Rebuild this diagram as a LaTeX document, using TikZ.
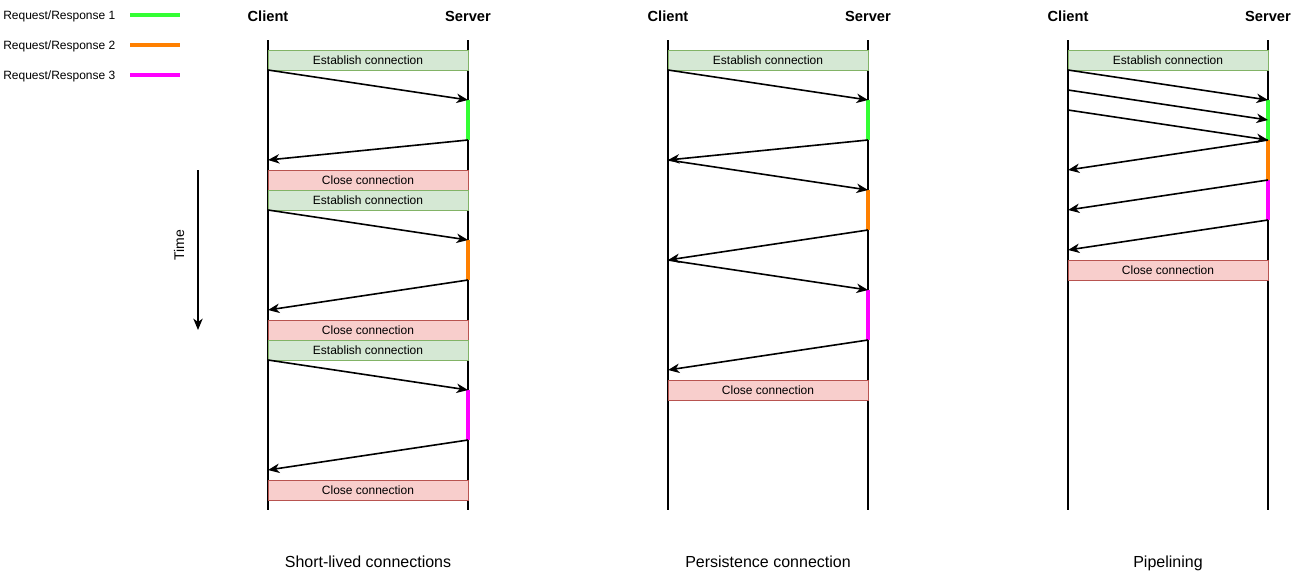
\documentclass[tikz,border=0pt]{standalone}
\usepackage{fontspec}
\setmainfont{Liberation Sans}
\usetikzlibrary{arrows.meta}
\definecolor{estfill}{HTML}{D5E8D4}
\definecolor{estdraw}{HTML}{82B366}
\definecolor{clsfill}{HTML}{F8CECC}
\definecolor{clsdraw}{HTML}{B85450}
\definecolor{rrone}{HTML}{33FF33}
\definecolor{rrtwo}{HTML}{FF8000}
\definecolor{rrthree}{HTML}{FF00FF}
\tikzset{
  life/.style={line width=1.2pt},
  msg/.style={line width=1.2pt,-{Stealth[length=8.5pt,width=7pt,inset=2.5pt]}},
  bar/.style={line width=3pt},
  legline/.style={line width=3pt},
  estbox/.style={draw=estdraw,fill=estfill,line width=0.75pt,minimum width=150pt,minimum height=15pt,inner sep=0pt,font=\fontsize{9pt}{10pt}\selectfont},
  clsbox/.style={draw=clsdraw,fill=clsfill,line width=0.75pt,minimum width=150pt,minimum height=15pt,inner sep=0pt,font=\fontsize{9pt}{10pt}\selectfont},
  head/.style={font=\fontsize{11pt}{12pt}\selectfont\bfseries},
  caption/.style={font=\fontsize{12pt}{14pt}\selectfont},
  legtext/.style={font=\fontsize{9pt}{10pt}\selectfont,anchor=west,inner sep=0pt},
}
\begin{document}
\begin{tikzpicture}[x=0.75pt,y=-0.75pt]
\useasboundingbox (0,0) rectangle (1298,578);
% legend
\node[legtext] (l1) at (3,16) {Request/Response 1};
\node[legtext] (l2) at (3,46) {Request/Response 2};
\node[legtext] (l3) at (3,76) {Request/Response 3};
\coordinate (l1a) at (130,15); \coordinate (l1b) at (180,15);
\coordinate (l2a) at (130,45); \coordinate (l2b) at (180,45);
\coordinate (l3a) at (130,75); \coordinate (l3b) at (180,75);
\draw[legline,rrone] (l1a) -- (l1b);
\draw[legline,rrtwo] (l2a) -- (l2b);
\draw[legline,rrthree] (l3a) -- (l3b);
% time
\coordinate (t0) at (198,170); \coordinate (t1) at (198,330);
\draw[msg] (t0) -- (t1);
\node[rotate=90,font=\fontsize{10.5pt}{12pt}\selectfont] (time) at (179,245) {Time};

% ===== Panel 1 =====
\node[head] (c1) at (268,16) {Client};
\node[head] (s1) at (468,16) {Server};
\coordinate (c1top) at (268,40); \coordinate (c1bot) at (268,510);
\coordinate (s1top) at (468,40); \coordinate (s1bot) at (468,510);
\draw[life] (c1top) -- (c1bot);
\draw[life] (s1top) -- (s1bot);
\coordinate (p1a) at (268,70);  \coordinate (p1b) at (468,100);
\coordinate (p1c) at (468,140); \coordinate (p1d) at (268,160);
\coordinate (p1e) at (268,210); \coordinate (p1f) at (468,240);
\coordinate (p1g) at (468,280); \coordinate (p1h) at (268,310);
\coordinate (p1i) at (268,360); \coordinate (p1j) at (468,390);
\coordinate (p1k) at (468,440); \coordinate (p1l) at (268,470);
\draw[bar,rrone] (p1b) -- (p1c);
\draw[bar,rrtwo] (p1f) -- (p1g);
\draw[bar,rrthree] (p1j) -- (p1k);
\node[estbox] (e1a) at (368,60) {Establish connection};
\node[clsbox] (x1a) at (368,180) {Close connection};
\node[estbox] (e1b) at (368,200) {Establish connection};
\node[clsbox] (x1b) at (368,330) {Close connection};
\node[estbox] (e1c) at (368,350) {Establish connection};
\node[clsbox] (x1c) at (368,490) {Close connection};
\draw[msg] (p1a) -- (p1b);
\draw[msg] (p1c) -- (p1d);
\draw[msg] (p1e) -- (p1f);
\draw[msg] (p1g) -- (p1h);
\draw[msg] (p1i) -- (p1j);
\draw[msg] (p1k) -- (p1l);
\node[caption] (cap1) at (368,562) {Short-lived connections};

% ===== Panel 2 =====
\node[head] (c2) at (668,16) {Client};
\node[head] (s2) at (868,16) {Server};
\coordinate (c2top) at (668,40); \coordinate (c2bot) at (668,510);
\coordinate (s2top) at (868,40); \coordinate (s2bot) at (868,510);
\draw[life] (c2top) -- (c2bot);
\draw[life] (s2top) -- (s2bot);
\coordinate (p2a) at (668,70);  \coordinate (p2b) at (868,100);
\coordinate (p2c) at (868,140); \coordinate (p2d) at (668,160);
\coordinate (p2e) at (868,190);
\coordinate (p2f) at (868,230); \coordinate (p2g) at (668,260);
\coordinate (p2h) at (868,290);
\coordinate (p2i) at (868,340); \coordinate (p2j) at (668,370);
\draw[bar,rrone] (p2b) -- (p2c);
\draw[bar,rrtwo] (p2e) -- (p2f);
\draw[bar,rrthree] (p2h) -- (p2i);
\node[estbox] (e2a) at (768,60) {Establish connection};
\node[clsbox] (x2a) at (768,390) {Close connection};
\draw[msg] (p2a) -- (p2b);
\draw[msg] (p2c) -- (p2d);
\draw[msg] (p2d) -- (p2e);
\draw[msg] (p2f) -- (p2g);
\draw[msg] (p2g) -- (p2h);
\draw[msg] (p2i) -- (p2j);
\node[caption] (cap2) at (768,562) {Persistence connection};

% ===== Panel 3 =====
\node[head] (c3) at (1068,16) {Client};
\node[head] (s3) at (1268,16) {Server};
\coordinate (c3top) at (1068,40); \coordinate (c3bot) at (1068,510);
\coordinate (s3top) at (1268,40); \coordinate (s3bot) at (1268,510);
\draw[life] (c3top) -- (c3bot);
\draw[life] (s3top) -- (s3bot);
\coordinate (q1) at (1068,70);  \coordinate (q2) at (1268,100);
\coordinate (q3) at (1068,90);  \coordinate (q4) at (1268,120);
\coordinate (q5) at (1068,110); \coordinate (q6) at (1268,140);
\coordinate (q7) at (1068,170);
\coordinate (q8) at (1268,180); \coordinate (q9) at (1068,210);
\coordinate (q10) at (1268,220); \coordinate (q11) at (1068,250);
\draw[bar,rrone] (q2) -- (q6);
\draw[bar,rrtwo] (q6) -- (q8);
\draw[bar,rrthree] (q8) -- (q10);
\node[estbox] (e3a) at (1168,60) {Establish connection};
\node[clsbox] (x3a) at (1168,270) {Close connection};
\draw[msg] (q1) -- (q2);
\draw[msg] (q3) -- (q4);
\draw[msg] (q5) -- (q6);
\draw[msg] (q6) -- (q7);
\draw[msg] (q8) -- (q9);
\draw[msg] (q10) -- (q11);
\node[caption] (cap3) at (1168,563) {Pipelining};
\end{tikzpicture}
\end{document}
